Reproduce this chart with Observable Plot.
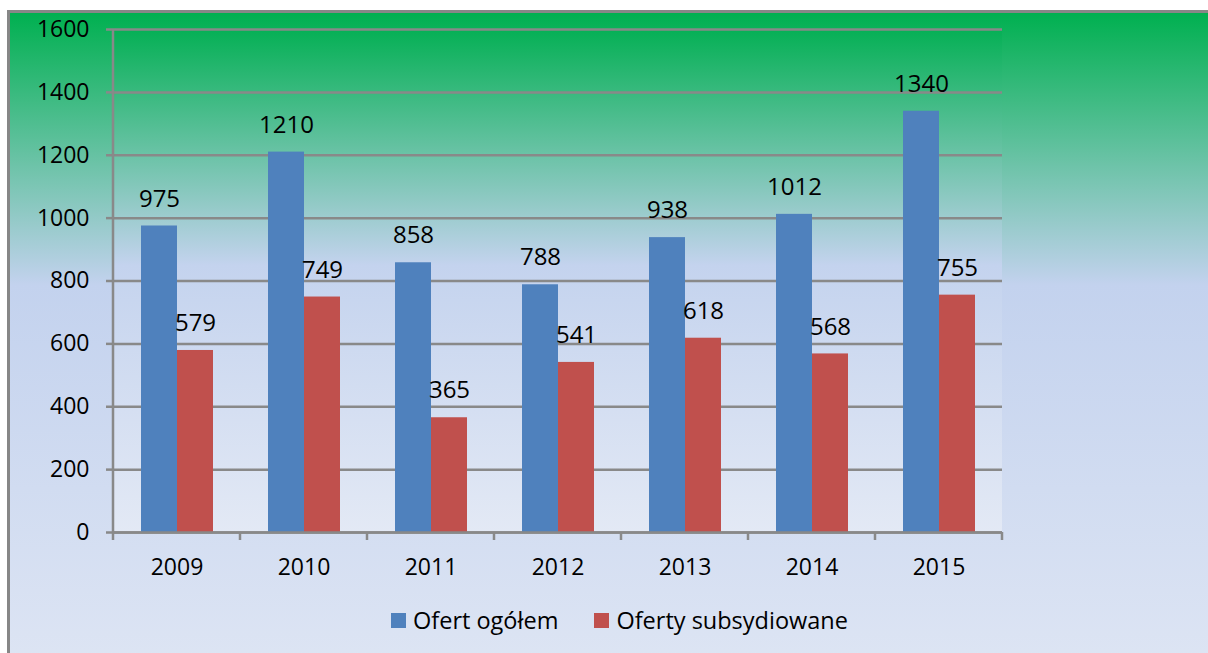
<!DOCTYPE html>
<html><head><meta charset="utf-8">
<script src="https://cdn.jsdelivr.net/npm/d3@7"></script>
<script src="https://cdn.jsdelivr.net/npm/@observablehq/plot@0.6"></script>
<style>
html,body{margin:0;padding:0;background:#fff;width:1208px;height:653px;overflow:hidden;font-family:"Open Sans",sans-serif;}
#box{position:absolute;left:7px;top:10px;width:1240px;height:680px;border-left:3px solid #878787;border-top:3px solid #878787;
 background:linear-gradient(to bottom,#00b050 0%,#c3d2ee 40%,#dfe6f4 100%);}
#plotbg{position:absolute;left:113px;top:29px;width:889px;height:503px;
 background:linear-gradient(to bottom,#05b055 0%,#c4d3ee 47%,#e3e9f5 100%);}
#chart{position:absolute;left:0;top:0;}
#legend{position:absolute;left:391px;top:604px;height:32px;display:flex;align-items:center;font-size:23.5px;line-height:32px;color:#000;white-space:nowrap;}
#legend .sw{display:inline-block;width:15px;height:15px;margin-right:7px;}
#legend .item{display:flex;align-items:center;margin-right:36px;}
</style></head>
<body>
<div id="box"></div>
<div id="plotbg"></div>
<div id="chart"></div>
<div id="legend"></div>
<script>
const years = ["2009","2010","2011","2012","2013","2014","2015"];
const series = ["Ofert ogółem","Oferty subsydiowane"];
const ofertOgolem = [975,1210,858,788,938,1012,1340];
const ofertySubsydiowane = [579,749,365,541,618,568,755];
const yTicks = [0,200,400,600,800,1000,1200,1400,1600];
const colors = ["#4f81bd","#c0504d"];

const data = years.flatMap((y,i)=>[
  {year:y, series:series[0], value:ofertOgolem[i]},
  {year:y, series:series[1], value:ofertySubsydiowane[i]}
]);

const plot = Plot.plot({
  width:1208, height:600,
  marginLeft:113, marginRight:206, marginTop:29, marginBottom:68,
  style:{background:"transparent", fontFamily:"'Open Sans', sans-serif", fontSize:"23px", color:"#000", overflow:"visible"},
  facet:{data, x:"year"},
  fx:{domain:years, padding:0, tickSize:0, tickPadding:26, label:null},
  x:{domain:series, paddingInner:0, paddingOuter:0.74, axis:null},
  y:{domain:[0,1600], ticks:yTicks, tickSize:7, tickPadding:17, grid:true, label:null, tickFormat:d3.format("d")},
  color:{domain:series, range:colors},
  marks:[
    Plot.barY(data,{x:"series", y:"value", fill:"series"}),
    Plot.ruleY([0],{stroke:"#898989", strokeWidth:2.5}),
    Plot.text(data,{x:"series", y:"value", text:d=>String(d.value), dy:-27, fontSize:24, fill:"#000"})
  ]
});
document.getElementById("chart").appendChild(plot);

const svg = d3.select(plot);
svg.selectAll("[aria-label='y-grid'], [aria-label='y-grid'] *")
  .attr("stroke","#898989").attr("stroke-opacity",1).attr("stroke-width",2.5);
svg.selectAll("[aria-label='y-axis tick'], [aria-label='y-axis tick'] *")
  .attr("stroke","#898989").attr("stroke-opacity",1).attr("stroke-width",2.5);

const fx = plot.scale("fx"), ys = plot.scale("y");
const y0 = ys.apply(0), yTop = ys.apply(1600);
const bounds = years.map(y=>fx.apply(y));
bounds.push(fx.apply(years[years.length-1]) + fx.bandwidth);
const g = svg.append("g").attr("stroke","#898989").attr("stroke-width",2.5);
g.append("line").attr("x1",bounds[0]).attr("x2",bounds[0]).attr("y1",yTop).attr("y2",y0);
bounds.forEach(b=>g.append("line").attr("x1",b).attr("x2",b).attr("y1",y0).attr("y2",y0+8));

const legend = document.getElementById("legend");
series.forEach((s,i)=>{
  const item = document.createElement("div"); item.className="item";
  const sw = document.createElement("span"); sw.className="sw"; sw.style.background=colors[i];
  const t = document.createElement("span"); t.textContent=s;
  item.appendChild(sw); item.appendChild(t); legend.appendChild(item);
});
</script>
</body></html>
